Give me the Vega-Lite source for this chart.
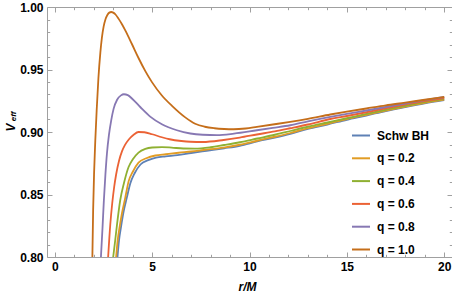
{
"$schema": "https://vega.github.io/schema/vega-lite/v6.json",
"width": 405, "height": 250,
"autosize": "none",
"padding": {"left": 47, "top": 7, "right": 0, "bottom": 37},
"config": {"font": "Liberation Sans", "view": {"stroke": null}},
"datasets": {"curves": [
{"s":"Schw BH","r":3.22,"V":0.8},{"s":"Schw BH","r":3.3,"V":0.8135},{"s":"Schw BH","r":3.4,"V":0.824},{"s":"Schw BH","r":3.53,"V":0.836},{"s":"Schw BH","r":3.7,"V":0.8475},{"s":"Schw BH","r":3.88,"V":0.859},{"s":"Schw BH","r":4.1,"V":0.867},{"s":"Schw BH","r":4.4,"V":0.874},{"s":"Schw BH","r":4.8,"V":0.8775},{"s":"Schw BH","r":5.2,"V":0.8795},{"s":"Schw BH","r":5.7,"V":0.8805},{"s":"Schw BH","r":6.3,"V":0.8815},{"s":"Schw BH","r":7.0,"V":0.8832},{"s":"Schw BH","r":7.8,"V":0.885},{"s":"Schw BH","r":8.7,"V":0.887},{"s":"Schw BH","r":9.5,"V":0.889},{"s":"Schw BH","r":10.4,"V":0.8925},{"s":"Schw BH","r":11.3,"V":0.8955},{"s":"Schw BH","r":12.1,"V":0.8985},{"s":"Schw BH","r":13.0,"V":0.9025},{"s":"Schw BH","r":14.0,"V":0.906},{"s":"Schw BH","r":15.0,"V":0.9098},{"s":"Schw BH","r":16.0,"V":0.9132},{"s":"Schw BH","r":17.0,"V":0.9168},{"s":"Schw BH","r":18.0,"V":0.92},{"s":"Schw BH","r":19.0,"V":0.923},{"s":"Schw BH","r":20.0,"V":0.9256},
{"s":"q = 0.2","r":3.15,"V":0.8},{"s":"q = 0.2","r":3.23,"V":0.8135},{"s":"q = 0.2","r":3.33,"V":0.824},{"s":"q = 0.2","r":3.45,"V":0.835},{"s":"q = 0.2","r":3.62,"V":0.8475},{"s":"q = 0.2","r":3.79,"V":0.8605},{"s":"q = 0.2","r":4.0,"V":0.868},{"s":"q = 0.2","r":4.3,"V":0.8755},{"s":"q = 0.2","r":4.7,"V":0.879},{"s":"q = 0.2","r":5.16,"V":0.8812},{"s":"q = 0.2","r":5.7,"V":0.8822},{"s":"q = 0.2","r":6.36,"V":0.8834},{"s":"q = 0.2","r":7.0,"V":0.8844},{"s":"q = 0.2","r":7.64,"V":0.8856},{"s":"q = 0.2","r":8.67,"V":0.8875},{"s":"q = 0.2","r":9.5,"V":0.8898},{"s":"q = 0.2","r":10.38,"V":0.893},{"s":"q = 0.2","r":11.3,"V":0.8962},{"s":"q = 0.2","r":12.1,"V":0.8992},{"s":"q = 0.2","r":13.0,"V":0.903},{"s":"q = 0.2","r":14.0,"V":0.9066},{"s":"q = 0.2","r":15.0,"V":0.9104},{"s":"q = 0.2","r":16.0,"V":0.9138},{"s":"q = 0.2","r":17.0,"V":0.9172},{"s":"q = 0.2","r":18.0,"V":0.9204},{"s":"q = 0.2","r":19.0,"V":0.9234},{"s":"q = 0.2","r":20.0,"V":0.926},
{"s":"q = 0.4","r":3.0,"V":0.8},{"s":"q = 0.4","r":3.1,"V":0.813},{"s":"q = 0.4","r":3.2,"V":0.8265},{"s":"q = 0.4","r":3.36,"V":0.8454},{"s":"q = 0.4","r":3.55,"V":0.859},{"s":"q = 0.4","r":3.79,"V":0.872},{"s":"q = 0.4","r":4.0,"V":0.878},{"s":"q = 0.4","r":4.3,"V":0.8835},{"s":"q = 0.4","r":4.65,"V":0.8865},{"s":"q = 0.4","r":5.0,"V":0.8876},{"s":"q = 0.4","r":5.5,"V":0.8879},{"s":"q = 0.4","r":6.0,"V":0.8875},{"s":"q = 0.4","r":6.6,"V":0.8868},{"s":"q = 0.4","r":7.2,"V":0.8867},{"s":"q = 0.4","r":8.0,"V":0.8878},{"s":"q = 0.4","r":8.7,"V":0.8896},{"s":"q = 0.4","r":9.5,"V":0.8918},{"s":"q = 0.4","r":10.4,"V":0.8948},{"s":"q = 0.4","r":11.3,"V":0.8978},{"s":"q = 0.4","r":12.1,"V":0.9008},{"s":"q = 0.4","r":13.0,"V":0.9042},{"s":"q = 0.4","r":14.0,"V":0.9076},{"s":"q = 0.4","r":15.0,"V":0.911},{"s":"q = 0.4","r":16.0,"V":0.9145},{"s":"q = 0.4","r":17.0,"V":0.9178},{"s":"q = 0.4","r":18.0,"V":0.921},{"s":"q = 0.4","r":19.0,"V":0.924},{"s":"q = 0.4","r":20.0,"V":0.9265},
{"s":"q = 0.6","r":2.74,"V":0.8},{"s":"q = 0.6","r":2.85,"V":0.826},{"s":"q = 0.6","r":2.95,"V":0.843},{"s":"q = 0.6","r":3.05,"V":0.856},{"s":"q = 0.6","r":3.15,"V":0.866},{"s":"q = 0.6","r":3.3,"V":0.877},{"s":"q = 0.6","r":3.45,"V":0.8845},{"s":"q = 0.6","r":3.6,"V":0.8895},{"s":"q = 0.6","r":3.8,"V":0.894},{"s":"q = 0.6","r":4.05,"V":0.8978},{"s":"q = 0.6","r":4.3,"V":0.9},{"s":"q = 0.6","r":4.6,"V":0.8998},{"s":"q = 0.6","r":5.0,"V":0.8982},{"s":"q = 0.6","r":5.5,"V":0.8958},{"s":"q = 0.6","r":5.9,"V":0.8942},{"s":"q = 0.6","r":6.5,"V":0.8928},{"s":"q = 0.6","r":6.96,"V":0.8922},{"s":"q = 0.6","r":7.6,"V":0.892},{"s":"q = 0.6","r":8.67,"V":0.8936},{"s":"q = 0.6","r":9.5,"V":0.8955},{"s":"q = 0.6","r":10.38,"V":0.898},{"s":"q = 0.6","r":11.3,"V":0.9005},{"s":"q = 0.6","r":12.09,"V":0.903},{"s":"q = 0.6","r":13.0,"V":0.906},{"s":"q = 0.6","r":14.15,"V":0.9104},{"s":"q = 0.6","r":15.0,"V":0.9128},{"s":"q = 0.6","r":16.0,"V":0.9158},{"s":"q = 0.6","r":17.0,"V":0.919},{"s":"q = 0.6","r":18.0,"V":0.922},{"s":"q = 0.6","r":19.0,"V":0.9248},{"s":"q = 0.6","r":20.0,"V":0.9272},
{"s":"q = 0.8","r":2.37,"V":0.8},{"s":"q = 0.8","r":2.45,"V":0.823},{"s":"q = 0.8","r":2.52,"V":0.845},{"s":"q = 0.8","r":2.6,"V":0.866},{"s":"q = 0.8","r":2.68,"V":0.883},{"s":"q = 0.8","r":2.78,"V":0.8975},{"s":"q = 0.8","r":2.9,"V":0.9095},{"s":"q = 0.8","r":3.02,"V":0.9185},{"s":"q = 0.8","r":3.2,"V":0.9258},{"s":"q = 0.8","r":3.4,"V":0.9293},{"s":"q = 0.8","r":3.55,"V":0.9302},{"s":"q = 0.8","r":3.75,"V":0.9295},{"s":"q = 0.8","r":4.0,"V":0.9262},{"s":"q = 0.8","r":4.4,"V":0.9198},{"s":"q = 0.8","r":4.9,"V":0.9123},{"s":"q = 0.8","r":5.5,"V":0.9062},{"s":"q = 0.8","r":6.27,"V":0.9014},{"s":"q = 0.8","r":6.96,"V":0.8988},{"s":"q = 0.8","r":7.6,"V":0.8978},{"s":"q = 0.8","r":8.33,"V":0.8975},{"s":"q = 0.8","r":9.2,"V":0.8987},{"s":"q = 0.8","r":10.38,"V":0.9014},{"s":"q = 0.8","r":11.2,"V":0.9033},{"s":"q = 0.8","r":12.09,"V":0.9054},{"s":"q = 0.8","r":13.0,"V":0.9085},{"s":"q = 0.8","r":14.15,"V":0.9121},{"s":"q = 0.8","r":15.0,"V":0.9145},{"s":"q = 0.8","r":16.0,"V":0.9172},{"s":"q = 0.8","r":17.0,"V":0.92},{"s":"q = 0.8","r":18.0,"V":0.9228},{"s":"q = 0.8","r":19.0,"V":0.9255},{"s":"q = 0.8","r":20.0,"V":0.928},
{"s":"q = 1.0","r":1.93,"V":0.8},{"s":"q = 1.0","r":1.97,"V":0.838},{"s":"q = 1.0","r":2.02,"V":0.868},{"s":"q = 1.0","r":2.08,"V":0.893},{"s":"q = 1.0","r":2.15,"V":0.917},{"s":"q = 1.0","r":2.24,"V":0.943},{"s":"q = 1.0","r":2.34,"V":0.9635},{"s":"q = 1.0","r":2.42,"V":0.9755},{"s":"q = 1.0","r":2.51,"V":0.9845},{"s":"q = 1.0","r":2.6,"V":0.9900},{"s":"q = 1.0","r":2.7,"V":0.9936},{"s":"q = 1.0","r":2.8,"V":0.9955},{"s":"q = 1.0","r":2.9,"V":0.996},{"s":"q = 1.0","r":3.0,"V":0.9955},{"s":"q = 1.0","r":3.12,"V":0.994},{"s":"q = 1.0","r":3.28,"V":0.9905},{"s":"q = 1.0","r":3.45,"V":0.9862},{"s":"q = 1.0","r":3.62,"V":0.9813},{"s":"q = 1.0","r":3.96,"V":0.9704},{"s":"q = 1.0","r":4.3,"V":0.9592},{"s":"q = 1.0","r":4.65,"V":0.9487},{"s":"q = 1.0","r":4.99,"V":0.9399},{"s":"q = 1.0","r":5.5,"V":0.9292},{"s":"q = 1.0","r":6.02,"V":0.9209},{"s":"q = 1.0","r":6.7,"V":0.9117},{"s":"q = 1.0","r":7.21,"V":0.9066},{"s":"q = 1.0","r":7.7,"V":0.9042},{"s":"q = 1.0","r":8.2,"V":0.903},{"s":"q = 1.0","r":8.7,"V":0.9024},{"s":"q = 1.0","r":9.18,"V":0.9022},{"s":"q = 1.0","r":9.8,"V":0.9028},{"s":"q = 1.0","r":10.38,"V":0.9041},{"s":"q = 1.0","r":11.2,"V":0.906},{"s":"q = 1.0","r":12.09,"V":0.9081},{"s":"q = 1.0","r":13.0,"V":0.9105},{"s":"q = 1.0","r":14.15,"V":0.914},{"s":"q = 1.0","r":15.0,"V":0.9163},{"s":"q = 1.0","r":16.0,"V":0.9188},{"s":"q = 1.0","r":17.0,"V":0.9213},{"s":"q = 1.0","r":18.0,"V":0.9235},{"s":"q = 1.0","r":19.0,"V":0.9258},{"s":"q = 1.0","r":20.0,"V":0.928}
]},
"data": {"name": "curves"},
"layer": [
{
"mark": {"type": "line", "strokeWidth": 1.8, "clip": true, "interpolate": "monotone"},
"encoding": {
"x": {"field": "r", "type": "quantitative",
 "scale": {"domain": [-0.4, 20.4], "nice": false, "zero": false},
 "axis": {"orient": "bottom", "values": [0,1,2,3,4,5,6,7,8,9,10,11,12,13,14,15,16,17,18,19,20],
  "labelExpr": "datum.value % 5 === 0 ? datum.label : ''",
  "tickSize": {"condition": {"test": "datum.value % 5 === 0", "value": -5}, "value": -2.7},
  "tickColor": "#a0a0a0", "domainColor": "#a0a0a0", "grid": false,
  "labelFontSize": 12, "labelFontWeight": "bold", "labelColor": "#000000", "labelPadding": 9, "labelFlush": false,
  "title": "r/M", "titleFontSize": 12, "titleFontStyle": "italic", "titleFontWeight": "bold", "titleColor": "#000000",
  "titleX": 200, "titleY": 33, "titleBaseline": "alphabetic", "titleAlign": "center"}},
"y": {"field": "V", "type": "quantitative",
 "scale": {"domain": [0.8, 1.0], "nice": false, "zero": false},
 "axis": {"orient": "left", "values": [0.8,0.81,0.82,0.83,0.84,0.85,0.86,0.87,0.88,0.89,0.9,0.91,0.92,0.93,0.94,0.95,0.96,0.97,0.98,0.99,1.0],
  "format": ".2f",
  "labelExpr": "round(datum.value*100) % 5 === 0 ? datum.label : ''",
  "tickSize": {"condition": {"test": "round(datum.value*100) % 5 === 0", "value": -5}, "value": -2.7},
  "tickColor": "#a0a0a0", "domainColor": "#a0a0a0", "grid": false,
  "labelFontSize": 12, "labelFontWeight": "bold", "labelColor": "#000000", "labelPadding": 9, "labelFlush": false,
  "title": "V", "titleFontSize": 12, "titleFontStyle": "italic", "titleFontWeight": "bold", "titleColor": "#000000",
  "titleAngle": 270, "titleX": -33, "titleY": 120, "titleBaseline": "alphabetic", "titleAlign": "center"}},
"color": {"field": "s", "type": "nominal",
 "scale": {"domain": ["Schw BH","q = 0.2","q = 0.4","q = 0.6","q = 0.8","q = 1.0"],
  "range": ["#5E81B5","#E19C24","#8FB032","#EB6235","#8778B3","#C56E1A"]},
 "legend": {"orient": "none", "legendX": 304, "legendY": 118.5, "title": null, "padding": 0,
  "symbolType": "stroke", "symbolSize": 324, "symbolStrokeWidth": 2, "rowPadding": 6.8,
  "labelFontSize": 12, "labelFontWeight": "bold", "labelColor": "#000000", "labelOffset": 6}}
}
},
{
"mark": {"type": "point", "opacity": 0},
"encoding": {
"x": {"field": "r", "type": "quantitative",
 "axis": {"orient": "top", "values": [0,1,2,3,4,5,6,7,8,9,10,11,12,13,14,15,16,17,18,19,20], "labels": false, "title": null,
  "tickSize": {"condition": {"test": "datum.value % 5 === 0", "value": -5}, "value": -2.7},
  "tickColor": "#a0a0a0", "domainColor": "#a0a0a0", "grid": false}},
"y": {"field": "V", "type": "quantitative",
 "axis": {"orient": "right", "values": [0.8,0.81,0.82,0.83,0.84,0.85,0.86,0.87,0.88,0.89,0.9,0.91,0.92,0.93,0.94,0.95,0.96,0.97,0.98,0.99,1.0], "labels": false, "title": null,
  "tickSize": {"condition": {"test": "round(datum.value*100) % 5 === 0", "value": -5}, "value": -2.7},
  "tickColor": "#a0a0a0", "domainColor": "#a0a0a0", "grid": false}}
}
},
{
"mark": {"type": "point", "opacity": 0},
"encoding": {
"y": {"field": "V", "type": "quantitative",
 "axis": {"orient": "left", "domain": false, "ticks": false, "labels": false, "grid": false,
  "title": "eff", "titleFontSize": 8, "titleFontStyle": "italic", "titleFontWeight": "bold", "titleColor": "#000000",
  "titleAngle": 270, "titleX": -32, "titleY": 109, "titleBaseline": "alphabetic", "titleAlign": "center"}}
}
}
],
"resolve": {"axis": {"x": "independent", "y": "independent"}}
}
